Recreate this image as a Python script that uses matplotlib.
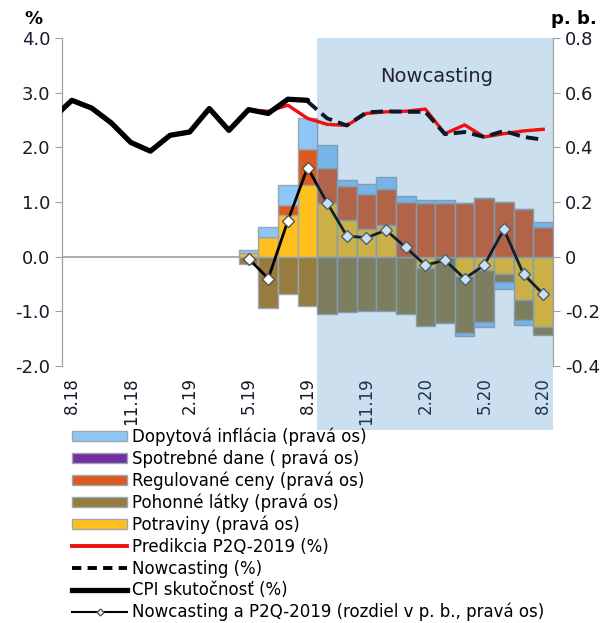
import matplotlib
matplotlib.use('Agg')
import matplotlib.pyplot as plt
import matplotlib.transforms as mtransforms
from matplotlib.patches import Rectangle
from matplotlib.lines import Line2D
from matplotlib.patches import Patch

# categories (7.18 is only partly visible at the left edge)
months = ['7.18', '8.18', '9.18', '10.18', '11.18', '12.18', '1.19', '2.19', '3.19', '4.19',
          '5.19', '6.19', '7.19', '8.19', '9.19', '10.19', '11.19', '12.19', '1.20',
          '2.20', '3.20', '4.20', '5.20', '6.20', '7.20', '8.20']

# left axis (%)
cpi = [2.52, 2.86, 2.72, 2.45, 2.09, 1.93, 2.22, 2.28, 2.71, 2.31, 2.69, 2.62, 2.88, 2.86]
prediction = [2.68, 2.66, 2.77, 2.53, 2.42, 2.40, 2.62, 2.65, 2.66, 2.70, 2.25, 2.41,
              2.19, 2.25, 2.30, 2.33]
nowcast = [2.84, 2.53, 2.40, 2.64, 2.66, 2.65, 2.65, 2.24, 2.28, 2.19, 2.30, 2.19, 2.14]

# right axis (p. b.), months 5.19 - 8.20
potraviny = [0.012, 0.072, 0.152, 0.262, 0.197, 0.134, 0.100, 0.115, 0.0, -0.043,
             0.0, -0.071, -0.047, -0.064, -0.157, -0.257]
pohonne = [-0.025, -0.186, -0.135, -0.181, -0.208, -0.204, -0.199, -0.199, -0.208, -0.211,
           -0.242, -0.208, -0.191, -0.030, -0.075, -0.030]
regulovane = [0.0, 0.0, 0.036, 0.131, 0.128, 0.124, 0.131, 0.131, 0.200, 0.195,
              0.195, 0.197, 0.213, 0.200, 0.173, 0.109]
spotrebne = [0.0] * 16
dopytova = [0.012, 0.035, 0.075, 0.116, 0.083, 0.024, 0.034, 0.046, 0.021, 0.014,
            0.014, -0.012, -0.021, -0.025, -0.019, 0.018]
rozdiel = [-0.007, -0.080, 0.131, 0.326, 0.197, 0.076, 0.069, 0.097, 0.034, -0.031,
           -0.013, -0.080, -0.031, 0.100, -0.064, -0.137]

x_all = list(range(-1, len(months) - 1))
x_cpi = x_all[:len(cpi)]
x_pred = x_all[-len(prediction):]
x_now = x_all[-len(nowcast):]
x_bar = x_all[-len(potraviny):]

c_dop = '#8EC6F6'
c_spo = '#7030A0'
c_reg = '#DC5A1E'
c_poh = '#967C3E'
c_pot = '#FFC01E'
edge = '#9AA6B2'

plt.rcParams['font.family'] = 'DejaVu Sans'
fig = plt.figure(figsize=(6.05, 6.23), dpi=100)
ax = fig.add_axes([62 / 605, 1 - 366 / 623, 491 / 605, 328 / 623])
ax2 = ax.twinx()

# stacked bars on the right-hand scale (drawn on the lower axes)
series = [(potraviny, c_pot), (pohonne, c_poh), (regulovane, c_reg),
          (spotrebne, c_spo), (dopytova, c_dop)]
pos_base = [0.0] * len(x_bar)
neg_base = [0.0] * len(x_bar)
for vals, col in series:
    bottoms = []
    for k, v in enumerate(vals):
        if v >= 0:
            bottoms.append(pos_base[k])
            pos_base[k] += v
        else:
            bottoms.append(neg_base[k])
            neg_base[k] += v
    ax.bar(x_bar, vals, bottom=bottoms, width=1.0, color=col, edgecolor=edge,
           linewidth=1.0, zorder=2)

ax.axhline(0, color='#A0A0A0', lw=1.2, zorder=1.5)
ax.plot(x_bar, rozdiel, color='black', lw=2, marker='D', ms=6, mfc='white',
        mec='#555555', mew=1, zorder=3)

# nowcasting shade (also covers the tick labels below)
trans = mtransforms.blended_transform_factory(ax.transData, ax.transAxes)
shade = Rectangle((12.5, -0.195), 12.0, 1.195, transform=trans, facecolor='#3383C3',
                  alpha=0.25, edgecolor='none', clip_on=False, zorder=4)
ax.add_patch(shade)

ax.set_ylim(-0.4, 0.8)
ax.set_yticks([-0.4, -0.2, 0, 0.2, 0.4, 0.6, 0.8])
ax.set_yticklabels(['-0.4', '-0.2', '0', '0.2', '0.4', '0.6', '0.8'])
ax.yaxis.tick_right()

# lines on the left-hand scale (upper axes)
ax2.plot(x_pred, prediction, color='#F01010', lw=2.4, zorder=3)
ax2.plot(x_now, nowcast, color='#0A1A2A', lw=2.8, ls=(0, (3.2, 1.6)), zorder=4)
ax2.plot(x_cpi, cpi, color='black', lw=3.8, solid_capstyle='round', zorder=5)
ax2.set_ylim(-2.0, 4.0)
ax2.set_yticks([-2, -1, 0, 1, 2, 3, 4])
ax2.set_yticklabels(['-2.0', '-1.0', '0.0', '1.0', '2.0', '3.0', '4.0'])
ax2.yaxis.tick_left()
ax2.text(18.6, 3.3, 'Nowcasting', ha='center', va='center', fontsize=14, color='#222233')

ax.set_xlim(-0.5, 24.5)
ax.set_xticks(x_all[1::3])
ax.set_xticklabels(months[1::3], rotation=90)

for a in (ax, ax2):
    for s in ('top', 'bottom'):
        a.spines[s].set_visible(False)
    a.spines['left'].set_color('#A0A0A0')
    a.spines['right'].set_color('#A0A0A0')
    a.tick_params(axis='y', labelsize=13, length=5, color='#A0A0A0', labelcolor='#1A1A2A')
ax.tick_params(axis='x', length=0, labelsize=12, pad=8, labelcolor='#1A1A2A')

fig.text(24 / 605, 1 - 19 / 623, '%', fontsize=13, fontweight='bold', ha='left', va='center')
fig.text(574 / 605, 1 - 19 / 623, 'p. b.', fontsize=13, fontweight='bold', ha='center', va='center')

handles = [
    Patch(facecolor=c_dop, edgecolor=edge, label='Dopytová inflácia (pravá os)'),
    Patch(facecolor=c_spo, edgecolor=edge, label='Spotrebné dane ( pravá os)'),
    Patch(facecolor=c_reg, edgecolor=edge, label='Regulované ceny (pravá os)'),
    Patch(facecolor=c_poh, edgecolor=edge, label='Pohonné látky (pravá os)'),
    Patch(facecolor=c_pot, edgecolor=edge, label='Potraviny (pravá os)'),
    Line2D([], [], color='#F01010', lw=2.8, label='Predikcia P2Q-2019 (%)'),
    Line2D([], [], color='black', lw=2.8, ls=(0, (2.4, 1.6)), label='Nowcasting (%)'),
    Line2D([], [], color='black', lw=3.8, label='CPI skutočnosť (%)'),
    Line2D([], [], color='black', lw=1.5, marker='D', ms=3.5, mfc='white', mec='#555555',
           label='Nowcasting a P2Q-2019 (rozdiel v p. b., pravá os)'),
]
fig.legend(handles=handles, loc='upper left', bbox_to_anchor=(72 / 605, 1 - 427 / 623),
           frameon=False, fontsize=12, handlelength=3.3, handleheight=0.55,
           labelspacing=0.22, handletextpad=0.3, borderaxespad=0, borderpad=0)

fig.savefig('out.png', dpi=100)
